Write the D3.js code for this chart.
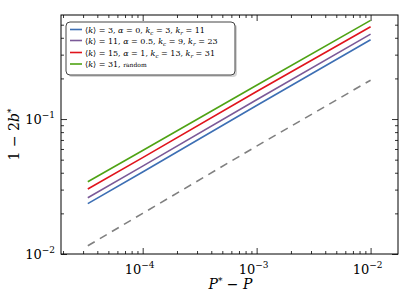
<!DOCTYPE html>
<html>
<head>
<meta charset="utf-8">
<script src="https://cdn.jsdelivr.net/npm/d3@7"></script>
<style>
  body { margin: 0; background: #fff; }
</style>
</head>
<body>
<div id="chart"></div>
<script>
// x values (P* - P) and the curves
const xVals = [3.3e-5, 1e-4, 1e-3, 1e-2]
const seriesNames = [
  "k3", "k11", "k15", "k31"
]
const k3Vals  = [0.0236, 0.0405, 0.126, 0.387]
const k11Vals = [0.0261, 0.0448, 0.139, 0.426]
const k15Vals = [0.0303, 0.0518, 0.160, 0.483]
const k31Vals = [0.0343, 0.0585, 0.178, 0.538]
const refVals = [0.0115, 0.020, 0.063, 0.194]

const xMajor = [1e-4, 1e-3, 1e-2]
const xMajorExp = ["−4", "−3", "−2"]
const yMajor = [1e-2, 1e-1]
const yMajorExp = ["−2", "−1"]

const colors = ["#3d6fb4", "#7b5a98", "#e0141c", "#4fa314"]

const margin = {top: 15, right: 9, bottom: 51, left: 61},
    W = 407, H = 305,
    width = W - margin.left - margin.right,
    height = H - margin.top - margin.bottom

const svg = d3.select("#chart").append("svg")
    .attr("width", W)
    .attr("height", H)
    .attr("font-family", "'DejaVu Serif', serif")
  .append("g")
    .attr("transform", `translate(${margin.left}, ${margin.top})`)

const x = d3.scaleLog().domain([1.92e-5, 1.74e-2]).range([0, width])
const y = d3.scaleLog().domain([0.01, 0.59]).range([height, 0])

// minor tick values
const xMinor = []
for (let e = -5; e <= -2; e++) {
  for (let m = 2; m <= 9; m++) {
    const v = m * Math.pow(10, e)
    if (v > x.domain()[0] && v < x.domain()[1]) xMinor.push(v)
  }
}
const yMinor = []
for (let e = -2; e <= -1; e++) {
  for (let m = 2; m <= 9; m++) {
    const v = m * Math.pow(10, e)
    if (v < y.domain()[1]) yMinor.push(v)
  }
}

// ticks pointing inward on all four sides
function ticks(axisFn, scale, vals, size, transform) {
  const g = svg.append("g")
    .attr("transform", transform)
    .call(axisFn(scale).tickValues(vals).tickSize(size).tickFormat(""))
  g.select(".domain").remove()
  g.selectAll("line").attr("stroke", "#000").attr("stroke-width", 0.8)
}
ticks(d3.axisBottom, x, xMajor, -6, `translate(0,${height})`)
ticks(d3.axisBottom, x, xMinor, -3, `translate(0,${height})`)
ticks(d3.axisTop, x, xMajor, -6, "translate(0,0)")
ticks(d3.axisTop, x, xMinor, -3, "translate(0,0)")
ticks(d3.axisLeft, y, yMajor, -6, "translate(0,0)")
ticks(d3.axisLeft, y, yMinor, -3, "translate(0,0)")
ticks(d3.axisRight, y, yMajor, -6, `translate(${width},0)`)
ticks(d3.axisRight, y, yMinor, -3, `translate(${width},0)`)

// tick labels 10^n
xMajor.forEach((v, i) => {
  const t = svg.append("text")
    .attr("x", x(v) - 3)
    .attr("y", height + 20)
    .attr("text-anchor", "middle")
    .attr("fill", "#000")
    .style("font-size", "13px")
  t.append("tspan").text("10")
  t.append("tspan").attr("dy", -6).style("font-size", "9px").text(xMajorExp[i])
})
yMajor.forEach((v, i) => {
  const t = svg.append("text")
    .attr("x", -6)
    .attr("y", y(v) + 5)
    .attr("text-anchor", "end")
    .attr("fill", "#000")
    .style("font-size", "13px")
  t.append("tspan").text("10")
  t.append("tspan").attr("dy", -6).style("font-size", "9px").text(yMajorExp[i])
})

// axis labels
const xl = svg.append("text")
  .attr("x", width / 2 + 1)
  .attr("y", height + 35)
  .attr("text-anchor", "middle")
  .attr("fill", "#000")
  .style("font-size", "14px")
xl.append("tspan").style("font-style", "italic").text("P")
xl.append("tspan").attr("dy", -5).style("font-size", "9px").text("*")
xl.append("tspan").attr("dy", 5).text(" − ")
xl.append("tspan").style("font-style", "italic").text("P")

const yl = svg.append("text")
  .attr("transform", `translate(${-42},${height / 2}) rotate(-90)`)
  .attr("text-anchor", "middle")
  .attr("fill", "#000")
  .style("font-size", "14px")
yl.append("tspan").text("1 − 2")
yl.append("tspan").style("font-style", "italic").text("b")
yl.append("tspan").attr("dy", -5).style("font-size", "9px").text("*")

// curves
const line = d3.line()
  .x(d => x(d[0]))
  .y(d => y(d[1]))

svg.append("path")
  .datum(xVals.map((v, i) => [v, refVals[i]]))
  .attr("fill", "none")
  .attr("stroke", "#808080")
  .attr("stroke-width", 1.6)
  .attr("stroke-dasharray", "8,6")
  .attr("d", line)

const allVals = [k3Vals, k11Vals, k15Vals, k31Vals]
allVals.forEach((vals, k) => {
  svg.append("path")
    .datum(xVals.map((v, i) => [v, vals[i]]))
    .attr("class", seriesNames[k])
    .attr("fill", "none")
    .attr("stroke", colors[k])
    .attr("stroke-width", 1.6)
    .attr("d", line)
})

// frame
svg.append("rect")
  .attr("width", width)
  .attr("height", height)
  .attr("fill", "none")
  .attr("stroke", "#000")
  .attr("stroke-width", 1)

// legend
const lg = svg.append("g").attr("transform", "translate(5,7)")
lg.append("rect")
  .attr("x", 2).attr("y", 2)
  .attr("width", 169).attr("height", 53)
  .attr("rx", 4)
  .attr("fill", "#aaa")
  .attr("opacity", 0.5)
lg.append("rect")
  .attr("width", 169).attr("height", 53)
  .attr("rx", 4)
  .attr("fill", "#fff")
  .attr("stroke", "#444")
  .attr("stroke-width", 1)

const legendRows = [
  [["⟨", ""], ["k", "i"], ["⟩ = 3, ", ""], ["α", "i"], [" = 0, ", ""], ["k", "i"], ["c", "sub"], [" = 3, ", ""], ["k", "i"], ["r", "sub"], [" = 11", ""]],
  [["⟨", ""], ["k", "i"], ["⟩ = 11, ", ""], ["α", "i"], [" = 0.5, ", ""], ["k", "i"], ["c", "sub"], [" = 9, ", ""], ["k", "i"], ["r", "sub"], [" = 23", ""]],
  [["⟨", ""], ["k", "i"], ["⟩ = 15, ", ""], ["α", "i"], [" = 1, ", ""], ["k", "i"], ["c", "sub"], [" = 13, ", ""], ["k", "i"], ["r", "sub"], [" = 31", ""]],
  [["⟨", ""], ["k", "i"], ["⟩ = 31, ", ""], ["random", "small"]]
]
const rowY = [7.5, 18.5, 30.5, 42]
legendRows.forEach((row, i) => {
  lg.append("line")
    .attr("x1", 4).attr("x2", 16)
    .attr("y1", rowY[i]).attr("y2", rowY[i])
    .attr("stroke", colors[i])
    .attr("stroke-width", 1.6)
  const t = lg.append("text")
    .attr("x", 19)
    .attr("y", rowY[i] + 3)
    .attr("fill", "#000")
    .style("font-size", "8px")
  let sub = false
  row.forEach(p => {
    const s = t.append("tspan").text(p[0])
    if (p[1] === "i") s.style("font-style", "italic")
    if (p[1] === "small") s.style("font-size", "6px")
    if (p[1] === "sub") { s.attr("dy", 2).style("font-size", "5.5px").style("font-style", "italic"); sub = true }
    else if (sub) { s.attr("dy", -2); sub = false }
  })
})
</script>
</body>
</html>
